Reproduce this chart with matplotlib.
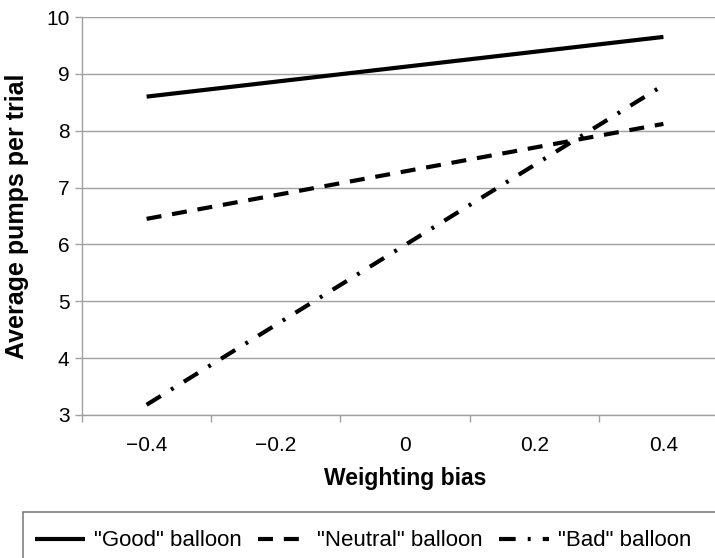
import matplotlib
matplotlib.use('Agg')
import matplotlib.pyplot as plt
from matplotlib.patches import Rectangle
import numpy as np

plt.rcParams['font.family'] = ['Liberation Sans', 'DejaVu Sans']

bias = [-0.4, 0.4]
good = [8.6, 9.65]
neutral = [6.45, 8.12]
bad = [3.18, 8.8]

fig = plt.figure(figsize=(7.15, 5.58), dpi=100)
ax = fig.add_axes([0.1147, 0.2563, 0.9035, 0.7132])

lw = 3
ax.plot(bias, good, color='black', lw=lw, label='"Good" balloon', solid_capstyle='butt')
ax.plot(bias, neutral, color='black', lw=lw, dashes=(3.6, 2.6), label='"Neutral" balloon')
ax.plot(bias, bad, color='black', lw=lw, dashes=(4.0, 2.9, 0.7, 2.9), label='"Bad" balloon')

ax.set_xlim(-0.5, 0.5)
ax.set_ylim(3, 10)

# tick marks between labels, labels without marks
ax.set_xticks(np.arange(-0.5, 0.51, 0.2))
ax.set_xticklabels([])
ax.set_xticks([-0.4, -0.2, 0, 0.2, 0.4], minor=True)
ax.set_xticklabels(['\u22120.4', '\u22120.2', '0', '0.2', '0.4'], minor=True)
ax.tick_params(axis='x', which='minor', length=0, pad=15, labelsize=15)
ax.tick_params(axis='x', which='major', length=5, color='#a0a0a0', width=1)
ax.set_yticks(range(3, 11))
ax.tick_params(axis='y', length=5, color='#a0a0a0', width=1, labelsize=15, pad=4)

ax.grid(axis='y', color='#a0a0a0', lw=1)
ax.set_axisbelow(True)
for s in ['top', 'right']:
    ax.spines[s].set_visible(False)
for s in ['left', 'bottom']:
    ax.spines[s].set_color('#a0a0a0')
    ax.spines[s].set_linewidth(1)

ax.set_xlabel('Weighting bias', fontsize=16.5, fontweight='bold', labelpad=9)
ax.set_ylabel('Average pumps per trial', fontsize=18, fontweight='bold', labelpad=12)

# legend frame runs off the right and bottom edges like the original
fig.patches.append(Rectangle((23 / 715, -0.05), 1.0, 1 - 512 / 558 + 0.05,
                             transform=fig.transFigure, fill=False,
                             edgecolor='#808080', lw=1.2))
leg = fig.legend(loc='center left', bbox_to_anchor=(35 / 715, 1 - 541 / 558), ncol=3,
                 frameon=False, fontsize=16, handlelength=2.25,
                 handletextpad=0.4, columnspacing=0.75, borderpad=0, borderaxespad=0)

fig.savefig('out.png', dpi=100)
